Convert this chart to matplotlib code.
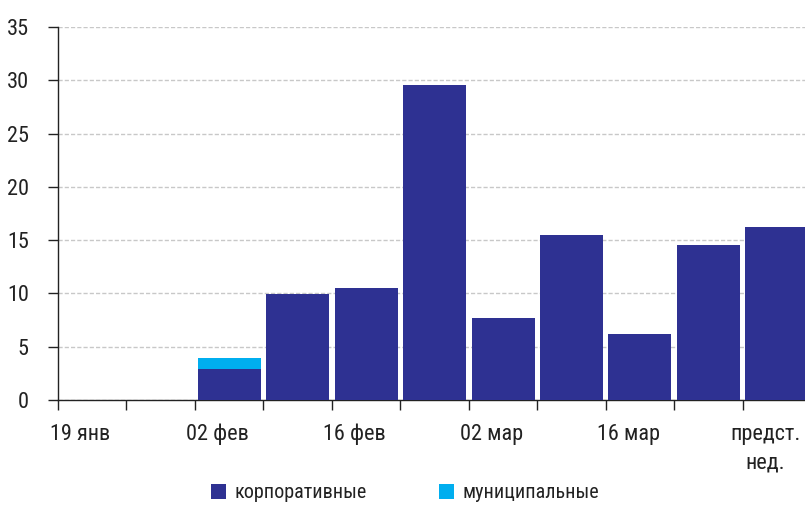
import matplotlib
matplotlib.use("Agg")
import matplotlib.pyplot as plt
from matplotlib import font_manager
import numpy as np

# weekly placements, bn
weeks = ["19 янв", "26 янв", "02 фев", "09 фев", "16 фев", "23 фев",
         "02 мар", "09 мар", "16 мар", "23 мар", "предст.\nнед."]
corporate = [0, 0, 2.9, 9.9, 10.5, 29.6, 7.7, 15.5, 6.2, 14.5, 16.2]
municipal = [0, 0, 1.0, 0, 0, 0, 0, 0, 0, 0, 0]
label_every = 2

names = {f.name for f in font_manager.fontManager.ttflist}
for fam in ["Liberation Sans Narrow", "Roboto Condensed", "Liberation Sans"]:
    if fam in names:
        plt.rcParams["font.family"] = [fam, "DejaVu Sans"]
        break

c_corp = "#2e3192"
c_muni = "#00aeef"

fig = plt.figure(figsize=(8.05, 5.05), dpi=100)
ax = fig.add_axes([58 / 805, 105 / 505, 1 - 58 / 805, 373 / 505])

x = np.arange(len(weeks))
ax.bar(x, corporate, width=0.92, color=c_corp, label="корпоративные", zorder=3)
ax.bar(x, municipal, width=0.92, bottom=corporate, color=c_muni,
       label="муниципальные", zorder=3)

ax.set_xlim(-0.5, len(weeks) - 0.59)
ax.set_ylim(0, 35)
ax.set_yticks(range(0, 36, 5))
ax.yaxis.grid(True, color="#c8c8c8", linestyle=(0, (3, 1.5)), linewidth=1, zorder=0)

# tick marks on the week boundaries, labels under every other week
ax.set_xticks(x - 0.5)
ax.set_xticklabels([])
ax.set_xticks(x[::label_every] - 0.17, minor=True)
ax.set_xticklabels(weeks[::label_every], minor=True)
for lbl in ax.get_xticklabels(minor=True):
    lbl.set_linespacing(1.5)
ax.tick_params(axis="x", which="major", length=7, width=1, color="#222222", direction="out")
ax.tick_params(axis="x", which="minor", length=0, pad=17, labelsize=16, labelcolor="#222222")
ax.tick_params(axis="y", length=7, width=1, color="#222222", pad=14, labelsize=16,
               labelcolor="#222222")

for s in ["top", "right"]:
    ax.spines[s].set_visible(False)
for s in ["left", "bottom"]:
    ax.spines[s].set_color("#222222")
    ax.spines[s].set_linewidth(1)

fig.legend(loc="center", bbox_to_anchor=(0.503, 12 / 505), ncol=2, frameon=False,
           fontsize=14.5, handlelength=0.75, handleheight=0.75, handletextpad=0.4,
           columnspacing=3.6, labelcolor="#222222")

fig.savefig("out.png", dpi=100)
